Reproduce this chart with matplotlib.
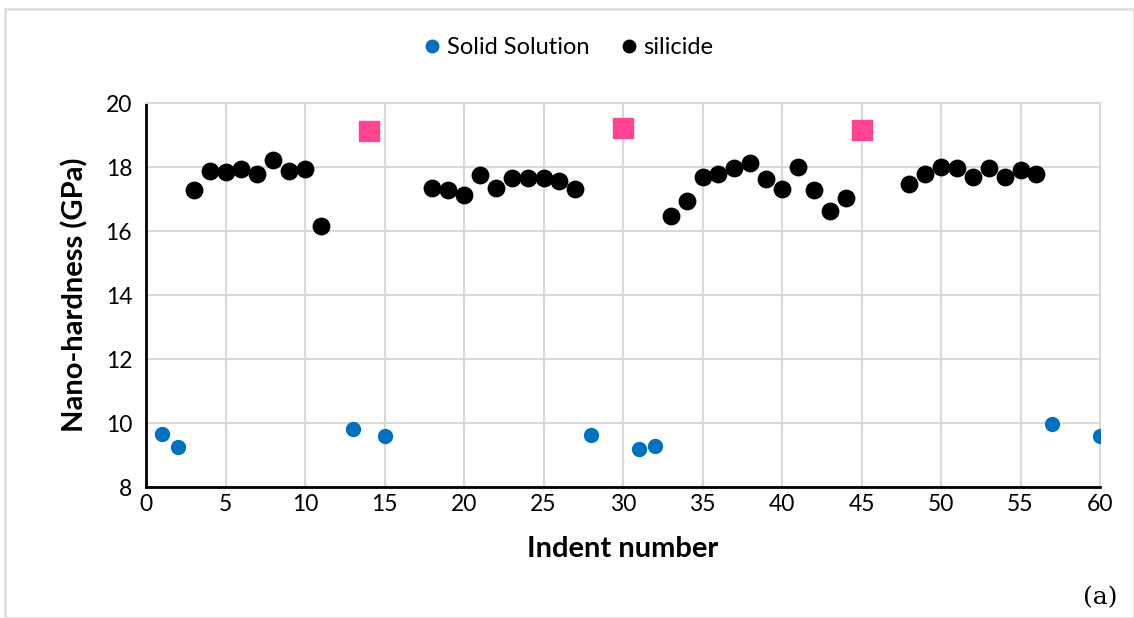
import matplotlib.pyplot as plt
from matplotlib.patches import Rectangle
from matplotlib.lines import Line2D

# solid solution indents
ss_x = [1, 2, 13, 15, 28, 31, 32, 57, 60]
ss_y = [9.66, 9.25, 9.81, 9.59, 9.63, 9.19, 9.28, 9.97, 9.59]

# silicide indents
si_x = [3, 4, 5, 6, 7, 8, 9, 10, 11,
        18, 19, 20, 21, 22, 23, 24, 25, 26, 27,
        33, 34, 35, 36, 37, 38, 39, 40, 41, 42, 43, 44,
        48, 49, 50, 51, 52, 53, 54, 55, 56]
si_y = [17.28, 17.88, 17.84, 17.94, 17.78, 18.22, 17.88, 17.94, 16.16,
        17.34, 17.28, 17.13, 17.75, 17.34, 17.66, 17.66, 17.66, 17.56, 17.31,
        16.47, 16.94, 17.69, 17.78, 17.97, 18.12, 17.63, 17.31, 18.0, 17.28, 16.63, 17.03,
        17.47, 17.78, 18.0, 17.97, 17.69, 17.97, 17.69, 17.91, 17.78]

# pink squares
sq_x = [14, 30, 45]
sq_y = [19.12, 19.22, 19.16]

plt.rcParams['font.family'] = ['Lato', 'DejaVu Sans']

fig = plt.figure(figsize=(11.34, 6.18), dpi=100)
ax = fig.add_axes([146 / 1134, 1 - 487 / 618, (1100 - 146) / 1134, (487 - 103) / 618])

ax.scatter(ss_x, ss_y, s=100, color='#0070C0', zorder=3)
ax.scatter(si_x, si_y, s=140, color='black', zorder=3)
ax.scatter(sq_x, sq_y, s=200, marker='s', color='#FF4591', zorder=3)

ax.set_xlim(0, 60)
ax.set_ylim(8, 20)
ax.set_xticks(range(0, 61, 5))
ax.set_yticks(range(8, 21, 2))
ax.grid(True, color='#d9d9d9', linewidth=1.5)
ax.set_axisbelow(True)
for s in ['top', 'right']:
    ax.spines[s].set_color('#d9d9d9')
    ax.spines[s].set_linewidth(1.5)
for s in ['left', 'bottom']:
    ax.spines[s].set_color('black')
    ax.spines[s].set_linewidth(2)
ax.tick_params(length=0, labelsize=16.5)
ax.tick_params(axis='x', pad=5)
ax.tick_params(axis='y', pad=10)

ax.set_xlabel('Indent number', fontsize=21, fontweight='bold', labelpad=15)
ax.set_ylabel('Nano-hardness (GPa)', fontsize=21, fontweight='bold', labelpad=12)

handles = [Line2D([], [], linestyle='none', marker='o', markersize=9, color='#0070C0'),
           Line2D([], [], linestyle='none', marker='o', markersize=9, color='black')]
fig.legend(handles, ['Solid Solution', 'silicide'], loc='center',
           bbox_to_anchor=(0.5, 1 - 48 / 618), ncol=2, frameon=False,
           fontsize=17, handletextpad=0.1, columnspacing=1.2, handlelength=1.0)

fig.text(1100 / 1134, 1 - 598 / 618, '(a)', fontsize=18, ha='center', va='center',
         family='DejaVu Serif')

fig.patches.append(Rectangle((5 / 1134, 0), 1 - 5 / 1134, 1 - 9 / 618, transform=fig.transFigure,
                             fill=False, edgecolor='#e0e0e0', linewidth=2))

fig.savefig('out.png', dpi=100)
